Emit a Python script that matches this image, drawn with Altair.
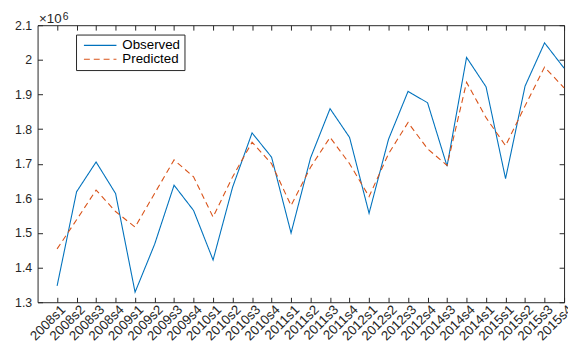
import altair as alt
import pandas as pd

# ---- data (values in units of 10^6) ----
categories = ["2008s1", "2008s2", "2008s3", "2008s4",
              "2009s1", "2009s2", "2009s3", "2009s4",
              "2010s1", "2010s2", "2010s3", "2010s4",
              "2011s1", "2011s2", "2011s3", "2011s4",
              "2012s1", "2012s2", "2012s3", "2012s4",
              "2014s3", "2014s4", "2014s1",
              "2015s1", "2015s2", "2015s3", "2015s4"]

observed = [1.347, 1.619, 1.705, 1.614,
            1.329, 1.467, 1.638, 1.565,
            1.422, 1.632, 1.789, 1.719,
            1.500, 1.717, 1.859, 1.776,
            1.557, 1.771, 1.909, 1.876,
            1.693, 2.007, 1.922,
            1.657, 1.924, 2.049, 1.976]

predicted = [1.454, 1.538, 1.624, 1.562,
             1.517, 1.614, 1.711, 1.662,
             1.546, 1.662, 1.762, 1.700,
             1.579, 1.690, 1.776, 1.700,
             1.605, 1.729, 1.819, 1.743,
             1.695, 1.935, 1.833,
             1.752, 1.867, 1.979, 1.919]

series_names = ["Observed", "Predicted"]
series_colors = ["#0072BD", "#D95319"]
series_dashes = [[1, 0], [6, 4]]
y_ticks = [1.3, 1.4, 1.5, 1.6, 1.7, 1.8, 1.9, 2.0, 2.1]
multiplier_base = "×10"
multiplier_exp = "6"

rows = []
for i, c in enumerate(categories):
    rows.append({"idx": i + 1, "period": c, "series": "Observed", "value": observed[i]})
    rows.append({"idx": i + 1, "period": c, "series": "Predicted", "value": predicted[i]})
df = pd.DataFrame(rows)

x_ticks = list(range(1, len(categories) + 1))
label_expr = "[" + ",".join("'%s'" % c for c in categories) + "][datum.value - 1]"

AX = "#262626"
FONT = "Liberation Sans"

x_scale = alt.Scale(domain=[0, len(categories)], nice=False)
y_scale = alt.Scale(domain=[1.3, 2.1], nice=False, zero=False)

legend_def = alt.Legend(
    title=None, orient="none", legendX=39, legendY=9.5,
    strokeColor=AX, fillColor="white", padding=4, rowPadding=0,
    symbolType="stroke", symbolSize=1089, symbolStrokeWidth=1.1,
    clipHeight=14, symbolOffset=3, labelOffset=5,
    labelFont=FONT, labelFontSize=13.5, labelColor="#000000",
)

lines = alt.Chart(df).mark_line(strokeWidth=1.1).encode(
    x=alt.X("idx:Q", scale=x_scale,
            axis=alt.Axis(orient="bottom", values=x_ticks, labelExpr=label_expr,
                          labelAngle=315, labelAlign="right", labelBaseline="middle",
                          labelPadding=5, labelOffset=6, offset=-5, tickSize=5,
                          ticks=True, domain=False, grid=False, title=None,
                          labelFlush=False, labelOverlap=False, labelFont=FONT,
                          labelFontSize=13.5, labelColor=AX, tickColor=AX, tickWidth=1)),
    y=alt.Y("value:Q", scale=y_scale,
            axis=alt.Axis(orient="left", values=y_ticks, format="~g", offset=-5,
                          tickSize=5, ticks=True, domain=False, grid=False,
                          labelPadding=6, labelFlush=False, labelFont=FONT,
                          labelFontSize=12.5, labelColor=AX, tickColor=AX, tickWidth=1,
                          title=multiplier_base, titleAngle=0, titleAlign="left",
                          titleBaseline="alphabetic", titleX=-4, titleY=-3,
                          titleFont=FONT, titleFontSize=13.5,
                          titleFontWeight="normal", titleColor=AX)),
    color=alt.Color("series:N", scale=alt.Scale(domain=series_names, range=series_colors),
                    legend=legend_def),
    strokeDash=alt.StrokeDash("series:N",
                              scale=alt.Scale(domain=series_names, range=series_dashes),
                              legend=legend_def),
    order="idx:Q",
)

frame = alt.Chart(df).mark_point(opacity=0).encode(
    x=alt.X("idx:Q", scale=x_scale,
            axis=alt.Axis(orient="top", values=x_ticks, labels=False, offset=-5,
                          tickSize=5, ticks=True, domain=False, grid=False,
                          tickColor=AX, tickWidth=1,
                          title=multiplier_exp, titleAngle=0, titleAlign="left",
                          titleBaseline="alphabetic", titleX=25, titleY=-11,
                          titleFont=FONT, titleFontSize=10.5,
                          titleFontWeight="normal", titleColor=AX)),
    y=alt.Y("value:Q", scale=y_scale,
            axis=alt.Axis(orient="right", values=y_ticks, labels=False, offset=-5,
                          tickSize=5, ticks=True, domain=False, grid=False, title=None,
                          tickColor=AX, tickWidth=1)),
)

chart = alt.layer(lines, frame).properties(
    width=534, height=281,
    autosize=alt.AutoSizeParams(type="none"),
    padding={"left": 30, "top": 15, "right": 4, "bottom": 46},
).configure(
    font=FONT
).configure_view(
    stroke=AX, strokeWidth=1
)

chart.save("out.html", embed_options={"renderer": "svg", "actions": False})
